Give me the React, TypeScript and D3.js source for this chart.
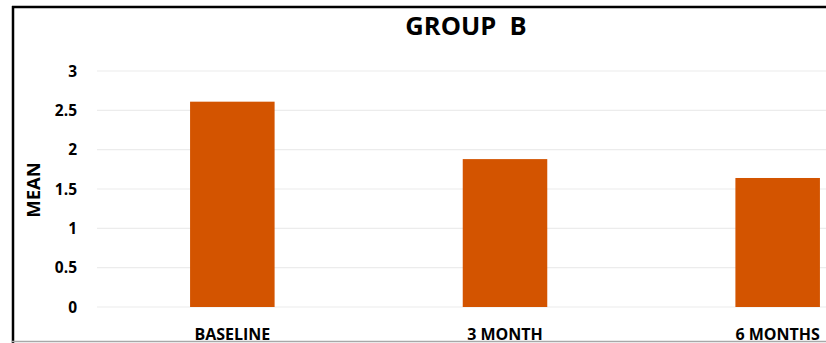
import React from "react";
import * as d3 from "d3";

// Mean score per time point for group B
const categories = ["BASELINE", "3 MONTH", "6 MONTHS"];
const means = [2.61, 1.88, 1.64];
const yTicks = [0, 0.5, 1, 1.5, 2, 2.5, 3];
const titleText = "GROUP  B";
const yTitle = "MEAN";

const W = 826;
const H = 343;
const FONT = "'Open Sans', 'DejaVu Sans', sans-serif";

export default function App() {
  const y = d3.scaleLinear().domain([0, 3]).range([307, 71]);
  const x = d3
    .scaleBand<string>()
    .domain(categories)
    .range([96, 914])
    .paddingInner(0.69)
    .paddingOuter(0.345);

  return (
    <svg
      width={W}
      height={H}
      viewBox={`0 0 ${W} ${H}`}
      style={{ position: "absolute", left: 0, top: 0, display: "block", background: "#fff" }}
    >
      {/* frame */}
      <line x1={12} x2={W} y1={7} y2={7} stroke="#000" strokeWidth={2.5} />
      <line x1={13} x2={13} y1={6} y2={H} stroke="#000" strokeWidth={2.5} />
      <line x1={12} x2={W} y1={341.5} y2={341.5} stroke="#a8a8a8" strokeWidth={1.5} />

      {/* gridlines */}
      {yTicks.map((t) => (
        <line
          key={`g${t}`}
          x1={97}
          x2={W}
          y1={y(t)}
          y2={y(t)}
          stroke="#ececec"
          strokeWidth={1.2}
        />
      ))}

      {/* bars */}
      {categories.map((c, i) => (
        <rect
          key={c}
          x={x(c)}
          y={y(means[i])}
          width={x.bandwidth()}
          height={y(0) - y(means[i])}
          fill="#d35400"
        />
      ))}

      {/* y tick labels */}
      {yTicks.map((t) => (
        <text
          key={`t${t}`}
          x={77}
          y={y(t)}
          dy="0.36em"
          textAnchor="end"
          fontFamily={FONT}
          fontWeight={700}
          fontSize={15.5}
          fill="#000"
        >
          {t}
        </text>
      ))}

      {/* category labels */}
      {categories.map((c) => (
        <text
          key={`c${c}`}
          x={(x(c) ?? 0) + x.bandwidth() / 2}
          y={339.5}
          textAnchor="middle"
          fontFamily={FONT}
          fontWeight={700}
          fontSize={16}
          fill="#000"
        >
          {c}
        </text>
      ))}

      {/* axis title */}
      <text
        transform="translate(39.5,190) rotate(-90)"
        textAnchor="middle"
        fontFamily={FONT}
        fontWeight={700}
        fontSize={18.5}
        fill="#000"
      >
        {yTitle}
      </text>

      {/* chart title */}
      <text
        x={466}
        y={35}
        textAnchor="middle"
        fontFamily={FONT}
        fontWeight={700}
        fontSize={25.5}
        fill="#000"
        style={{ whiteSpace: "pre" }}
      >
        {titleText}
      </text>
    </svg>
  );
}
